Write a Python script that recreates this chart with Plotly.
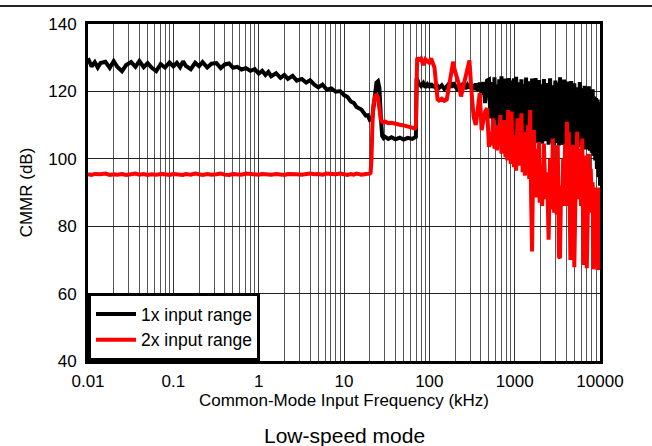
import plotly.graph_objects as go

# Common-mode input frequency (kHz)
freq_khz = [
    0.010, 0.011, 0.012, 0.013, 0.014, 0.016, 0.018, 0.020, 0.022, 0.025, 0.028,
    0.032, 0.036, 0.040, 0.045, 0.050, 0.056, 0.063, 0.071, 0.080, 0.090,
    0.10, 0.11, 0.12, 0.13, 0.14, 0.16, 0.18, 0.20, 0.22, 0.25, 0.28,
    0.32, 0.36, 0.40, 0.45, 0.50, 0.56, 0.63, 0.71, 0.80, 0.90,
    1.0, 1.1, 1.2, 1.3, 1.4, 1.6, 1.8, 2.0, 2.2, 2.5, 2.8,
    3.2, 3.6, 4.0, 4.5, 5.0, 5.6, 6.3, 7.1, 8.0, 9.0,
    10, 11, 12, 13, 14, 16, 18, 19, 20, 20.5, 21, 21.5, 22, 23, 24, 25, 26, 27, 28, 29, 30,
    33, 36, 40, 45, 50, 56, 63, 68, 69.5, 71, 72, 75, 80, 85, 90, 95,
    100, 105, 110, 115, 120, 125, 130, 140, 150, 160, 170, 180, 190, 200, 210,
    220, 235, 250, 265, 280, 295, 310, 330, 350, 370, 390, 410, 430, 450, 475,
    500, 520, 540, 560, 580, 600, 620, 640, 660, 680, 700, 720, 740, 760, 780,
    800, 820, 840, 860, 880, 900, 920, 940, 960, 980,
    1000, 1040, 1080, 1120, 1160, 1200, 1240, 1280, 1320, 1360, 1400, 1440, 1480,
    1520, 1560, 1600, 1640, 1680, 1720, 1760, 1800, 1840, 1880, 1920, 1960,
    2000, 2100, 2200, 2300, 2400, 2500, 2600, 2700, 2800, 2900, 3000, 3100, 3200,
    3300, 3400, 3500, 3600, 3700, 3800, 3900, 4000, 4100, 4200, 4300, 4400, 4500,
    4600, 4700, 4800, 4900,
    5000, 5200, 5400, 5600, 5800, 6000, 6200, 6400, 6600, 6800, 7000, 7200, 7400,
    7600, 7800, 8000, 8200, 8400, 8600, 8800, 9000, 9200, 9400, 9600, 9800, 10000,
]

# CMMR (dB), 1x input range
cmmr_1x = [
    129.8, 127.4, 128.7, 127.1, 128.4, 128.8, 127.0, 129.0, 127.3, 126.0, 127.8,
    128.7, 127.3, 129.0, 127.2, 128.4, 127.0, 126.0, 128.1, 127.1, 128.6,
    127.4, 128.5, 127.2, 128.9, 127.6, 126.6, 128.5, 127.5, 128.7, 127.1, 128.2,
    128.4, 126.9, 128.0, 128.3, 127.0, 127.3, 126.5, 126.9, 126.1, 126.6,
    125.3, 126.1, 124.9, 125.8, 124.5, 125.4, 124.0, 124.9, 123.7, 124.6, 123.2,
    123.7, 122.6, 123.3, 122.0, 121.2, 122.0, 120.5, 120.9, 119.9, 120.1,
    118.9, 118.3, 117.0, 116.6, 115.4, 114.6, 112.8, 112.9, 111.6, 111.8, 111.7, 112.4, 114.5,
    119.5, 122.6, 123.0, 121.0, 112.5, 106.8, 106.2, 106.6,
    105.9, 106.4, 105.8, 106.3, 105.7, 106.2, 105.9, 106.4, 106.5, 124.0, 123.2, 122.4, 121.6,
    122.5, 121.2, 122.1,
    121.5, 122.3, 121.2, 121.9, 120.8, 121.6, 121.0, 121.8, 120.7, 121.4, 122.3, 121.2, 122.6,
    121.5, 120.9, 122.0, 121.4, 122.4, 120.8, 121.9, 121.0, 122.1, 120.5, 122.3, 120.2, 122.6,
    119.0, 122.8, 116.5, 123.2,
    123.5, 112.0, 122.8, 110.5, 124.2, 111.5, 122.0, 109.5, 123.6, 110.8,
    124.5, 108.6, 122.4, 109.9, 123.8, 108.2, 122.9, 109.3, 124.0, 107.8,
    123.2, 108.7, 122.5, 107.4, 123.9,
    107.0, 124.3, 106.5, 122.7, 107.3, 123.6, 105.9, 122.2, 106.8, 124.1,
    105.6, 123.0, 106.3, 122.4, 105.2, 123.8, 105.9, 122.6, 104.8, 124.0,
    105.5, 122.9, 104.6, 123.4, 105.3,
    122.1, 104.5, 123.7, 105.2, 122.5, 104.2, 123.9, 104.9, 121.8, 104.0,
    123.2, 104.7, 122.6, 103.9, 124.2, 104.6, 122.0, 104.1, 123.5, 104.8,
    121.6, 103.8, 122.9, 104.4, 121.9, 103.6, 123.1, 104.3, 121.5, 103.9,
    122.4, 104.2, 121.2, 103.5, 122.8, 104.0, 120.9, 103.2, 121.7, 102.8,
    120.4, 103.0, 121.5, 102.4, 119.8, 101.8, 120.6, 100.9, 118.5, 99.5,
    118.0, 97.0, 117.6, 94.5, 116.8, 92.0,
]

# CMMR (dB), 2x input range
cmmr_2x = [
    95.4, 95.2, 95.5, 95.3, 95.4, 95.6, 95.2, 95.4, 95.3, 95.5, 95.2,
    95.4, 95.6, 95.3, 95.5, 95.2, 95.4, 95.3, 95.5, 95.4, 95.2,
    95.5, 95.3, 95.4, 95.2, 95.5, 95.3, 95.6, 95.4, 95.2, 95.5, 95.3,
    95.4, 95.6, 95.3, 95.2, 95.5, 95.4, 95.3, 95.6, 95.4, 95.5,
    95.3, 95.5, 95.4, 95.6, 95.3, 95.5, 95.4, 95.2, 95.5, 95.6, 95.4,
    95.3, 95.5, 95.6, 95.4, 95.5, 95.3, 95.6, 95.5, 95.4, 95.6,
    95.4, 95.2, 95.5, 95.3, 95.6, 95.3, 95.5, 95.4, 95.6, 95.8, 100.0, 109.5, 115.5,
    118.3, 119.2, 118.2, 114.2, 111.6, 111.0, 110.8, 111.1,
    110.6, 110.7, 110.3, 110.1, 109.9, 109.6, 109.3, 109.0, 109.3, 129.6, 130.0, 129.3, 129.8,
    127.8, 129.5, 128.9,
    128.5, 129.8, 128.2, 127.0, 122.0, 117.6, 117.3, 117.8, 117.2, 117.6, 121.5, 126.0, 128.8,
    126.0, 124.0, 122.5, 118.5, 121.5, 123.5, 127.0, 129.2, 121.0, 112.5, 110.0, 115.5, 119.5,
    108.5, 111.0, 114.0, 115.0,
    103.5, 108.0, 104.0, 112.0, 103.0, 106.0, 102.5, 110.0, 104.0, 113.0,
    101.5, 108.0, 103.0, 111.5, 100.5, 106.0, 99.5, 114.5, 101.0, 109.0,
    98.5, 114.0, 100.0, 107.0, 97.5,
    105.0, 96.5, 112.0, 98.0, 104.0, 113.5, 96.0, 103.0, 95.0, 108.0,
    97.0, 110.0, 94.0, 114.5, 88.0, 72.5, 96.0, 108.5, 90.0, 103.0,
    88.5, 99.0, 92.0, 105.0, 87.0,
    98.0, 86.0, 104.5, 88.0, 96.0, 76.0, 100.0, 85.0, 106.0, 84.0,
    95.0, 83.5, 104.0, 71.0, 70.5, 92.0, 86.0, 100.0, 88.0, 104.5,
    86.0, 111.0, 89.0, 108.0, 85.0, 70.0, 98.0, 87.0, 104.0, 85.5,
    67.8, 95.0, 108.0, 88.0, 103.0, 86.0, 106.0, 68.5, 92.0, 101.0,
    67.5, 88.0, 101.5, 85.0, 97.0, 84.0, 93.0, 67.2, 88.0, 91.5,
    84.0, 90.0, 67.0, 88.0, 91.5, 67.0,
]

x_tick_vals = [0.01, 0.1, 1, 10, 100, 1000, 10000]
x_tick_text = ["0.01", "0.1", "1", "10", "100", "1000", "10000"]
y_tick_vals = [40, 60, 80, 100, 120, 140]

series_names = ["1x input range", "2x input range"]
series_colors = ["#000000", "#ff0000"]

FONT = "Liberation Sans, Arial, sans-serif"

fig = go.Figure()
for name, vals, col in zip(series_names, [cmmr_1x, cmmr_2x], series_colors):
    fig.add_trace(go.Scatter(
        x=freq_khz, y=vals, mode="lines", name=name,
        line=dict(color=col, width=4),
    ))

fig.update_layout(
    width=652, height=446,
    margin=dict(l=88, r=52, t=24, b=85),
    paper_bgcolor="white", plot_bgcolor="white",
    font=dict(family=FONT, color="black", size=17),
    showlegend=True,
    legend=dict(
        x=0, y=0, xanchor="left", yanchor="bottom",
        bgcolor="white", bordercolor="black", borderwidth=3,
        font=dict(size=17.5, family=FONT, color="black"),
        itemwidth=40, tracegroupgap=0,
    ),
    xaxis=dict(
        type="log", range=[-2, 4],
        tickvals=x_tick_vals, ticktext=x_tick_text,
        showgrid=True, gridcolor="#333333", gridwidth=1,
        minor=dict(dtick="D1", showgrid=True, gridcolor="#555555", gridwidth=1, ticks=""),
        showline=True, linecolor="black", linewidth=3, mirror=True,
        ticks="", ticklabelstandoff=3,
        tickfont=dict(size=17, family=FONT, color="black"),
        title=dict(text="Common-Mode Input Frequency (kHz)", standoff=3,
                   font=dict(size=17, family=FONT, color="black")),
        zeroline=False,
    ),
    yaxis=dict(
        range=[40, 140], tickvals=y_tick_vals,
        showgrid=True, gridcolor="#222222", gridwidth=1,
        showline=True, linecolor="black", linewidth=3, mirror=True,
        ticks="", ticklabelstandoff=5,
        tickfont=dict(size=17, family=FONT, color="black"),
        title=dict(text="CMMR (dB)", standoff=12,
                   font=dict(size=17, family=FONT, color="black")),
        zeroline=False,
    ),
)

fig.add_shape(type="line", xref="paper", yref="paper",
              x0=-88 / 512, x1=(652 - 88) / 512, y0=(361 - 6) / 337, y1=(361 - 6) / 337,
              line=dict(color="#222222", width=2))

fig.add_annotation(text="Low-speed mode", xref="paper", yref="paper",
                   x=0.501, y=(361 - 435) / 337, xanchor="center", yanchor="middle",
                   showarrow=False, font=dict(size=21, family=FONT, color="black"))

fig.write_html("out.html", config={"displayModeBar": False},
               post_script="document.body.style.margin='0px';")
